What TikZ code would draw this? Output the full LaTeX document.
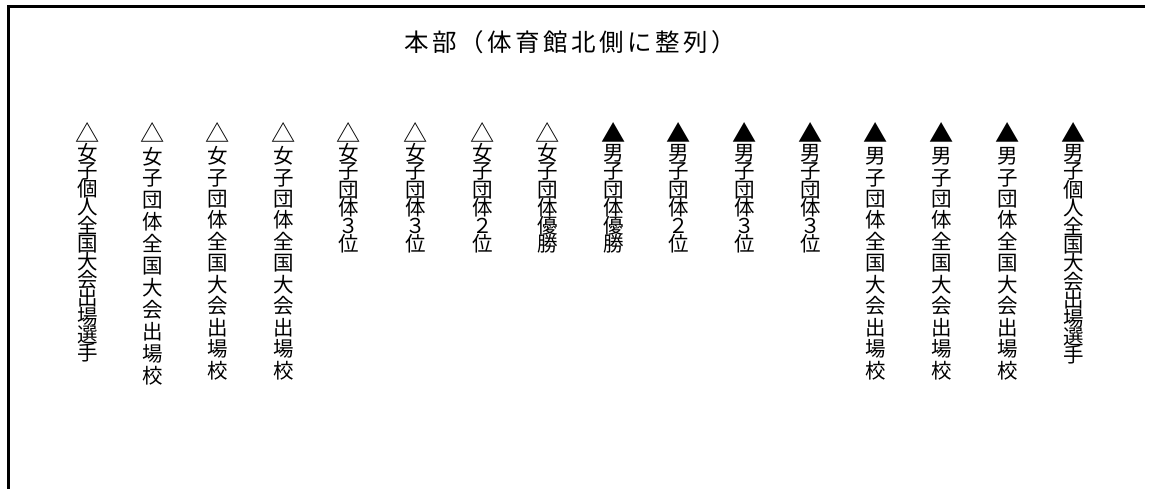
\documentclass[tikz,border=0pt]{standalone}
\usepackage{fontspec}
\setmainfont{Noto Sans CJK JP}
\newfontfamily\titlefont[LetterSpace=14]{Noto Sans CJK JP}
\newcommand\wtri{\scalebox{1.18}{△}}
\newcommand\btri{\scalebox{1.18}{▲}}
\newcommand\vfont[1]{\fontsize{20.5}{#1}\selectfont\lineskiplimit=-50pt\lineskip=0pt}
\begin{document}
\begin{tikzpicture}[x=1pt,y=-1pt,
  frameline/.style={line width=3pt,line join=miter},
  vcolA/.style={anchor=north,inner sep=0pt,align=center,font=\vfont{18.2}},
  vcolB/.style={anchor=north,inner sep=0pt,align=center,font=\vfont{21.9}},
  vcolC/.style={anchor=north,inner sep=0pt,align=center,font=\vfont{21.45}},
  vcolD/.style={anchor=north,inner sep=0pt,align=center,font=\vfont{18.3}},
  vcolE/.style={anchor=north,inner sep=0pt,align=center,font=\vfont{18.4}},
  titlestyle/.style={inner sep=0pt,font=\titlefont\fontsize{24.5}{28}\selectfont}]
\useasboundingbox (0,0) rectangle (1149,488);
\coordinate (fbl) at (8,490);
\coordinate (ftl) at (8,6);
\coordinate (ftr) at (1145,6);
\draw[frameline] (fbl) -- (ftl) -- (ftr);
\node[titlestyle] (title) at (570,42) {本部（体育館北側に整列）};
\def\ty{122}
\node[vcolA] (c1) at (88,\ty) {\wtri\\女\\子\\個\\人\\全\\国\\大\\会\\出\\場\\選\\手};
\node[vcolB] (c2) at (153,\ty) {\wtri\\女\\子\\団\\体\\全\\国\\大\\会\\出\\場\\校};
\node[vcolC] (c3) at (218,\ty) {\wtri\\女\\子\\団\\体\\全\\国\\大\\会\\出\\場\\校};
\node[vcolC] (c4) at (284,\ty) {\wtri\\女\\子\\団\\体\\全\\国\\大\\会\\出\\場\\校};
\node[vcolD] (c5) at (349,\ty) {\wtri\\女\\子\\団\\体\\３\\位};
\node[vcolD] (c6) at (416,\ty) {\wtri\\女\\子\\団\\体\\３\\位};
\node[vcolD] (c7) at (483,\ty) {\wtri\\女\\子\\団\\体\\２\\位};
\node[vcolD] (c8) at (548,\ty) {\wtri\\女\\子\\団\\体\\優\\勝};
\node[vcolD] (c9) at (614,\ty) {\btri\\男\\子\\団\\体\\優\\勝};
\node[vcolD] (c10) at (679,\ty) {\btri\\男\\子\\団\\体\\２\\位};
\node[vcolD] (c11) at (745,\ty) {\btri\\男\\子\\団\\体\\３\\位};
\node[vcolD] (c12) at (811,\ty) {\btri\\男\\子\\団\\体\\３\\位};
\node[vcolC] (c13) at (876,\ty) {\btri\\男\\子\\団\\体\\全\\国\\大\\会\\出\\場\\校};
\node[vcolC] (c14) at (942,\ty) {\btri\\男\\子\\団\\体\\全\\国\\大\\会\\出\\場\\校};
\node[vcolC] (c15) at (1008,\ty) {\btri\\男\\子\\団\\体\\全\\国\\大\\会\\出\\場\\校};
\node[vcolE] (c16) at (1074,\ty) {\btri\\男\\子\\個\\人\\全\\国\\大\\会\\出\\場\\選\\手};
\end{tikzpicture}
\end{document}
